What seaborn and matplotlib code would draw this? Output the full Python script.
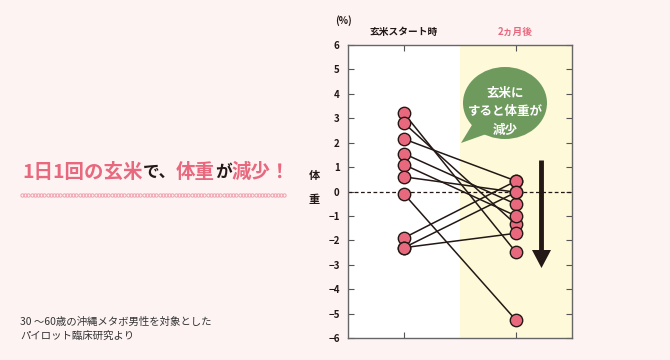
import matplotlib
matplotlib.use("Agg")
import matplotlib.pyplot as plt
import seaborn as sns
import numpy as np
import pandas as pd
from matplotlib.patches import Ellipse, Polygon
from matplotlib.lines import Line2D

# ---- data ----
time_labels = ["玄米スタート時", "2ヵ月後"]
start_vals = [3.2, 2.8, 2.15, 1.55, 1.1, 0.6, -0.1, -1.9, -2.3, -2.3]
end_vals = [-2.49, -1.35, 0.43, -0.52, -1.0, -0.03, -5.27, 0.43, -0.03, -1.71]
y_ticks = [-6, -5, -4, -3, -2, -1, 0, 1, 2, 3, 4, 5, 6]

title_parts = [("1日1回の玄米", "pink"), ("で、", "dark"), ("体重", "pink"),
               ("が", "dark"), ("減少！", "pink")]
note_lines = ["30 ～60歳の沖縄メタボ男性を対象とした", "パイロット臨床研究より"]
bubble_lines = ["玄米に", "すると体重が", "減少"]

PINK = "#e8697e"
DARK = "#231815"
BG = "#fdf3f3"
YEL = "#fdf9d9"
GREEN = "#6f9a5e"

sns.set_theme(style="white")
plt.rcParams["font.family"] = ["Noto Sans CJK JP", "DejaVu Sans"]

W, H = 670, 360
fig = plt.figure(figsize=(W / 100, H / 100), dpi=100, facecolor=BG)

def fx(px):
    return px / W

def fy(py):
    return 1 - py / H

ax = fig.add_axes([fx(348), fy(338), fx(572) - fx(348), fy(45) - fy(338)])
ax.set_facecolor("white")

n = len(start_vals)
df = pd.DataFrame({
    "subject": list(range(n)) * 2,
    "t": [0] * n + [1] * n,
    "value": start_vals + end_vals,
})

ax.axvspan(0.5, 1.5, color=YEL, zorder=0, lw=0)
ax.axhline(0, color=DARK, lw=0.9, ls=(0, (3, 2)), zorder=1)

sns.lineplot(data=df, x="t", y="value", units="subject", estimator=None,
             color=DARK, lw=1.1, ax=ax, zorder=2, legend=False)
sns.scatterplot(data=df, x="t", y="value", s=80, color=PINK, edgecolor=DARK,
                linewidth=1.0, ax=ax, zorder=3, legend=False)

ax.set_xlim(-0.5, 1.5)
ax.set_ylim(-6, 6)
ax.set_yticks(y_ticks)
ax.set_yticklabels([str(v).replace("-", "−") if v < 0 else str(v) for v in y_ticks],
                   fontsize=7, color=DARK, fontweight="bold")
ax.set_xticks([0, 1])
ax.set_xticklabels([])
ax.set_xlabel("")
ax.set_ylabel("")
ax.tick_params(axis="both", direction="in", length=4, width=0.8, color="#555555",
               top=True, right=True, bottom=True, left=True, pad=6)
for s in ax.spines.values():
    s.set_color("#666666")
    s.set_linewidth(1.0)
    s.set_visible(True)

# column headers
fig.text(fx(404), fy(32), time_labels[0], ha="center", va="center",
         fontsize=7, color=DARK, fontweight="bold")
fig.text(fx(515), fy(32), time_labels[1], ha="center", va="center",
         fontsize=7, color=PINK, fontweight="bold")
fig.text(fx(343), fy(21), "(%)", ha="center", va="center", fontsize=7,
         color=DARK, fontweight="bold")
fig.text(fx(314), fy(176), "体", ha="center", va="center", fontsize=8,
         color=DARK, fontweight="bold")
fig.text(fx(314), fy(200), "重", ha="center", va="center", fontsize=8,
         color=DARK, fontweight="bold")

# speech bubble
bub = Ellipse((fx(505), fy(103)), fx(84), 72 / H, transform=fig.transFigure,
              color=GREEN, zorder=5, lw=0)
fig.add_artist(bub)
tail = Polygon([[fx(475), fy(120)], [fx(461), fy(143)], [fx(492), fy(132)]],
               closed=True, transform=fig.transFigure, color=GREEN, zorder=5, lw=0)
fig.add_artist(tail)
for i, t in enumerate(bubble_lines):
    fig.text(fx(505), fy(94 + 18 * i), t, ha="center", va="center", fontsize=9,
             color="white", fontweight="bold", zorder=6)

# down arrow
fig.add_artist(Line2D([fx(541), fx(541)], [fy(160), fy(252)], transform=fig.transFigure,
                      color=DARK, lw=3.5, solid_capstyle="butt", zorder=5))
fig.add_artist(Polygon([[fx(532), fy(250)], [fx(551), fy(250)], [fx(541.5), fy(268)]],
                       closed=True, transform=fig.transFigure, color=DARK, lw=0, zorder=5))

# title with mixed colours
fig.canvas.draw()
renderer = fig.canvas.get_renderer()
x = 22
for txt, c in title_parts:
    col = PINK if c == "pink" else DARK
    size = 14 if c == "pink" else 12
    t = fig.text(fx(x), fy(172), txt, ha="left", va="center", fontsize=size,
                 color=col, fontweight="bold")
    bb = t.get_window_extent(renderer)
    x += bb.width
# dotted wave under title
xs = np.arange(22, 286, 3.2)
fig.add_artist(Line2D([fx(v) for v in xs], [fy(195)] * len(xs), transform=fig.transFigure,
                      ls="none", marker="o", ms=2.4, mfc="none", mec="#f0a0ae", mew=0.7))

# note
for i, t in enumerate(note_lines):
    fig.text(fx(20), fy(322 + 14 * i), t, ha="left", va="center", fontsize=7.5,
             color="#333333")

fig.savefig("out.png", dpi=100, facecolor=BG)
